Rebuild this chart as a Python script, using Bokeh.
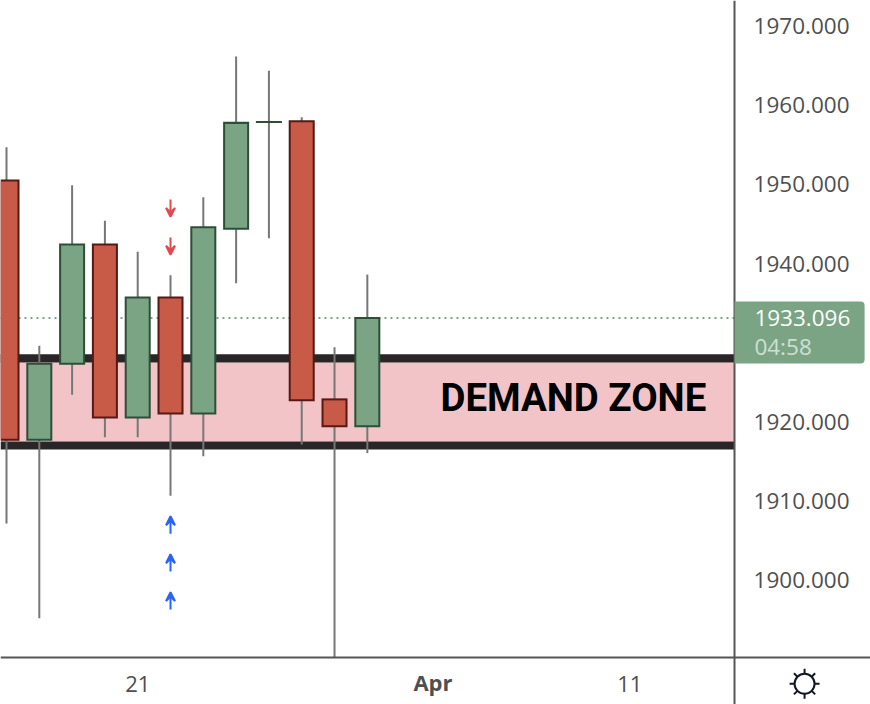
from bokeh.plotting import figure
from bokeh.models import (Range1d, LinearAxis, FixedTicker, NumeralTickFormatter, Label,
                          Arrow, VeeHead, ColumnDataSource)
from bokeh.embed import file_html
from bokeh.resources import INLINE

index  = [0, 1, 2, 3, 4, 5, 6, 7, 8, 9, 10, 11]
opens  = [1950.5, 1917.7, 1927.3, 1942.4, 1920.5, 1935.7, 1921.0, 1944.4, 1957.9, 1958.0, 1922.8, 1919.4]
closes = [1917.7, 1927.3, 1942.4, 1920.5, 1935.7, 1921.0, 1944.6, 1957.8, 1957.9, 1922.7, 1919.4, 1933.096]
highs  = [1954.7, 1929.6, 1949.9, 1945.4, 1941.5, 1938.5, 1948.4, 1966.2, 1964.4, 1958.5, 1929.4, 1938.6]
lows   = [1907.1, 1895.1, 1923.4, 1918.0, 1918.0, 1910.6, 1915.6, 1937.5, 1943.2, 1917.1, 1890.13, 1916.0]

price_ticks = [1900, 1910, 1920, 1940, 1950, 1960, 1970]
day_ticks = {4: "21", 19: "11"}
month_ticks = {13: "Apr"}

zone_top_outer, zone_top_inner = 1928.5, 1927.47
zone_bot_inner, zone_bot_outer = 1917.47, 1916.46

sell_x, sell_tail, sell_tip = [5, 5], [1948.1, 1943.3], [1945.9, 1941.1]
buy_x, buy_tail, buy_tip = [5, 5, 5], [1905.8, 1901.0, 1896.2], [1908.0, 1903.2, 1898.4]

last_price = 1933.096
countdown = "04:58"

GREEN, GREEN_D = "#7aa484", "#2d4f38"
RED, RED_D = "#c75b47", "#551a15"
WICK, AXIS, TXT = "#777777", "#555555", "#4f4f4f"
FONT = "Open Sans"

X0, X_AXIS, X1 = -0.183, 22.195, 26.34
Y0, Y_AXIS, Y1 = 1884.18, 1890.13, 1973.29
EDGE_Y = 0.127   # one pixel in price units

p = figure(width=870, height=704, output_backend="svg", toolbar_location=None,
           x_range=Range1d(X0, X1), y_range=Range1d(Y0, Y1),
           min_border=0, x_axis_location=None, y_axis_location=None, outline_line_color=None,
           background_fill_color="white")
p.grid.visible = False

yaxis = LinearAxis(fixed_location=X_AXIS, ticker=FixedTicker(ticks=price_ticks),
                   formatter=NumeralTickFormatter(format="0.000"),
                   axis_line_color=AXIS, axis_line_width=2, major_tick_line_color=None, minor_tick_line_color=None,
                   major_label_text_font=FONT, major_label_text_font_size="22.5px",
                   major_label_text_color=TXT, major_label_standoff=13)
p.add_layout(yaxis, "right")
xaxis = LinearAxis(fixed_location=Y_AXIS, ticker=FixedTicker(ticks=list(day_ticks)),
                   major_label_overrides=day_ticks,
                   axis_line_color=AXIS, axis_line_width=2, major_tick_line_color=None, minor_tick_line_color=None,
                   major_label_text_font=FONT, major_label_text_font_size="22px",
                   major_label_text_color=TXT, major_label_standoff=13)
p.add_layout(xaxis, "below")
xaxis2 = LinearAxis(fixed_location=Y_AXIS, ticker=FixedTicker(ticks=list(month_ticks)),
                    major_label_overrides=month_ticks,
                    axis_line_color=None, major_tick_line_color=None, minor_tick_line_color=None,
                    major_label_text_font=FONT, major_label_text_font_size="22px",
                    major_label_text_font_style="bold",
                    major_label_text_color=TXT, major_label_standoff=4)
p.add_layout(xaxis2, "below")

# demand zone
p.quad(left=X0, right=X_AXIS, top=zone_top_inner, bottom=zone_bot_inner, fill_color="#f2c4c8", line_color=None)
p.quad(left=X0, right=X_AXIS, top=zone_top_outer, bottom=zone_top_inner, fill_color="#2a2627", line_color=None)
p.quad(left=X0, right=X_AXIS, top=zone_bot_inner, bottom=zone_bot_outer, fill_color="#2a2627", line_color=None)

# last price line
p.segment(x0=X0, x1=X_AXIS, y0=last_price, y1=last_price, line_color=GREEN, line_width=2, line_dash="2 4")

tops = [max(a, b) for a, b in zip(opens, closes)]
bots = [min(a, b) for a, b in zip(opens, closes)]
src = ColumnDataSource(dict(
    x=index, h=highs, l=lows,
    otop=[t + EDGE_Y for t in tops],
    obot=[b - EDGE_Y for b in bots],
    itop=[t - EDGE_Y if t - b > 2 * EDGE_Y else t for t, b in zip(tops, bots)],
    ibot=[b + EDGE_Y if t - b > 2 * EDGE_Y else t for t, b in zip(tops, bots)],
    fill=[GREEN if c >= o else RED for o, c in zip(opens, closes)],
    edge=[GREEN_D if c >= o else RED_D for o, c in zip(opens, closes)],
))
p.segment("x", "h", "x", "l", source=src, line_color=WICK, line_width=2)
p.vbar(x="x", width=0.793, top="otop", bottom="obot", source=src, fill_color="edge", line_color=None)
p.vbar(x="x", width=0.67, top="itop", bottom="ibot", source=src, fill_color="fill", line_color=None)

for x, t0, t1 in zip(sell_x, sell_tail, sell_tip):
    p.add_layout(Arrow(end=VeeHead(size=9, line_color="#e5484d", line_width=2, fill_color="#e5484d"),
                       x_start=x, y_start=t0, x_end=x, y_end=t1, line_color="#e5484d", line_width=2))
for x, t0, t1 in zip(buy_x, buy_tail, buy_tip):
    p.add_layout(Arrow(end=VeeHead(size=9, line_color="#2962ff", line_width=2, fill_color="#2962ff"),
                       x_start=x, y_start=t0, x_end=x, y_end=t1, line_color="#2962ff", line_width=2))

p.add_layout(Label(x=13.23, y=1923, text="DEMAND ZONE", text_font="Roboto", text_font_style="bold",
                   text_font_size="38.4px", text_color="#000000", text_baseline="middle"))

# price tag
p.quad(left=X_AXIS, right=26.16, top=1935.19, bottom=1927.34, fill_color=GREEN, line_color=None,
       border_radius=(0, 4, 4, 0), level="annotation")
p.add_layout(Label(x=22.8, y=1933.1, text="1933.096", text_font=FONT, text_font_size="22.5px",
                   text_color="white", text_baseline="middle", level="overlay"))
p.add_layout(Label(x=22.8, y=1929.5, text=countdown, text_font=FONT, text_font_size="22.5px",
                   text_color="#cfe0d3", text_baseline="middle", level="overlay"))

# settings (sun) icon
p.scatter(x=[24.33], y=[1886.8], marker="asterisk", size=30, line_color="#131722", line_width=2)
p.scatter(x=[24.33], y=[1886.8], marker="circle", size=20, fill_color="white", line_color="#131722", line_width=2)

open("out.html", "w").write(file_html(p, INLINE))
